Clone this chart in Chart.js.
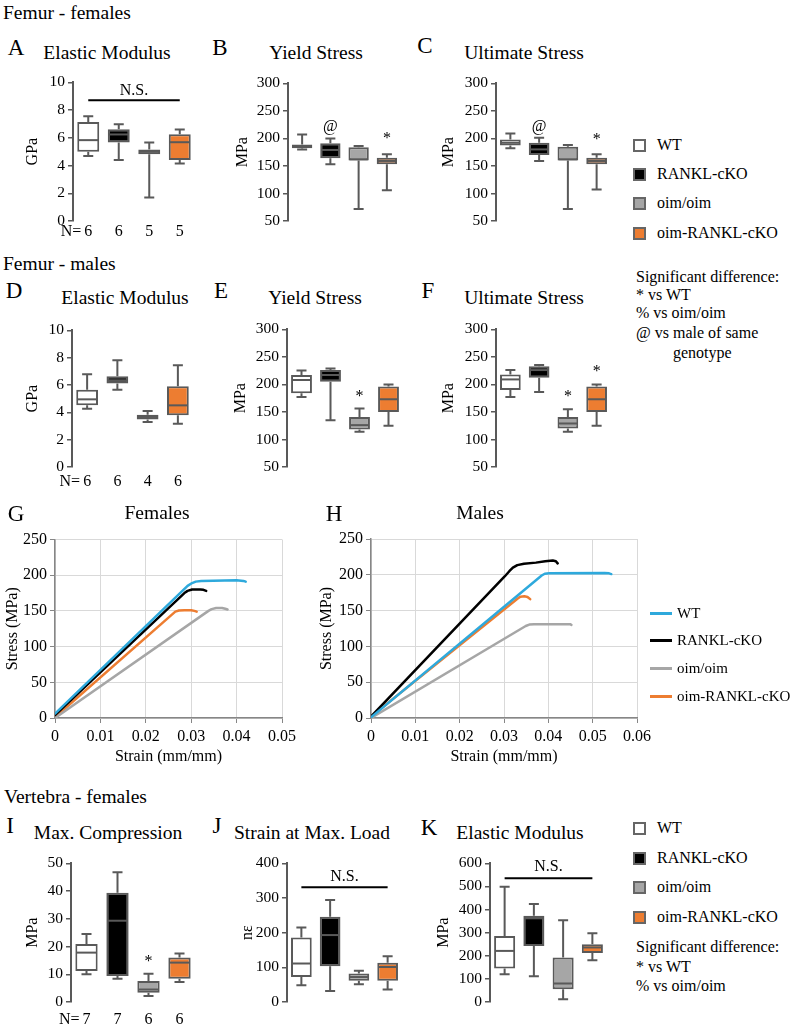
<!DOCTYPE html>
<html>
<head>
<meta charset="utf-8">
<script src="https://cdn.jsdelivr.net/npm/chart.js@4.4.1/dist/chart.umd.min.js"></script>
<style>
  body { margin: 0; background: #fff; }
  #fig { position: relative; width: 795px; height: 1027px; overflow: hidden; font-family: 'Liberation Serif', Tinos, 'Times New Roman', Times, 'DejaVu Serif', 'Noto Serif', serif; color: #000; }
  #fig canvas { position: absolute; }
  .t { position: absolute; white-space: nowrap; }
  .sw { position: absolute; width: 9px; height: 9px; border: 2px solid #666; }
  .ln { position: absolute; width: 22px; height: 3px; }
</style>
</head>
<body>
<div id="fig"></div>
<script>
const FONT = "'Liberation Serif', Tinos, 'Times New Roman', Times, 'DejaVu Serif', 'Noto Serif', serif"

const groups = ['WT', 'RANKL-cKO', 'oim/oim', 'oim-RANKL-cKO']
const boxFill = ['#ffffff', '#000000', '#a6a6a6', '#ed7d31']
const lineColor = ['#2ea9dc', '#000000', '#a6a6a6', '#ed7d31']

// box plots: one [min, q1, median, q3, max] per group
const femElastic = [[4.68, 4.99, 5.83, 7.14, 7.55], [4.39, 5.66, 6.24, 6.62, 6.98], [1.7, 4.82, 4.99, 5.16, 5.66], [4.15, 4.39, 5.68, 6.26, 6.6]]
const femYield = [[180, 182, 185, 189, 207], [153, 164, 179, 191, 200], [72, 160, 162, 184, 186], [106, 153, 159, 165, 171]]
const femUltimate = [[182, 187, 192, 198, 209], [159, 170, 180, 192, 201], [72, 160, 162, 185, 188], [107, 153, 159, 165, 171]]
const maleElastic = [[4.27, 4.51, 4.95, 5.66, 6.78], [5.66, 6.1, 6.34, 6.63, 7.8], [3.29, 3.47, 3.66, 3.83, 4.1], [3.17, 3.78, 4.51, 5.9, 7.44]]
const maleYield = [[177, 184, 208, 217, 225], [135, 205, 217, 226, 229], [114, 118, 126, 141, 156], [125, 150, 173, 196, 200]]
const maleUltimate = [[177, 190, 209, 218, 226], [186, 212, 226, 233, 235], [114, 120, 129, 141, 155], [125, 150, 173, 196, 200]]
const vertCompression = [[10, 11.2, 17.8, 20.9, 24.5], [8.4, 9.4, 29.3, 39.4, 46.8], [2.2, 3.3, 4.5, 7.6, 10.2], [7.2, 8.4, 14.2, 16, 17.5]]
const vertStrain = [[48, 72, 111, 186, 215], [32, 103, 193, 246, 294], [51, 61, 72, 82, 90], [36, 61, 101, 113, 132]]
const vertElastic = [[120, 145, 221, 285, 499], [111, 242, 362, 373, 424], [12, 55, 80, 193, 354], [181, 212, 236, 250, 297]]

const femaleN = [6, 6, 5, 5]
const maleN = [6, 6, 4, 6]
const vertN = [7, 7, 6, 6]

// stress-strain curves: [strain, stress]
const femCurveWT = [[0, 6], [0.0292, 185], [0.0302, 189], [0.031, 191], [0.0322, 192], [0.04, 193], [0.0415, 192], [0.042, 191]]
const femCurveRANKL = [[0, 4], [0.0285, 175], [0.0292, 178], [0.0302, 180], [0.032, 180], [0.0327, 179.5], [0.0333, 178]]
const femCurveOim = [[0, 0], [0.0338, 150], [0.0345, 152.5], [0.0355, 154], [0.0368, 154], [0.0375, 153], [0.038, 152]]
const femCurveOimRANKL = [[0, 1], [0.0265, 149], [0.0273, 150.5], [0.0285, 151], [0.03, 151], [0.0307, 150], [0.0312, 149]]
const maleCurveWT = [[0, 1], [0.0385, 199], [0.0392, 201.5], [0.0402, 202], [0.0527, 202.5], [0.0537, 202], [0.0542, 201]]
const maleCurveRANKL = [[0, 2], [0.0302, 198], [0.0312, 205], [0.032, 210], [0.033, 213.5], [0.0345, 215.5], [0.0372, 217], [0.0393, 219], [0.041, 220], [0.0417, 219], [0.0421, 216]]
const maleCurveOim = [[0, 0], [0.0349, 128.5], [0.0357, 130.5], [0.0368, 131], [0.0449, 131], [0.0452, 130]]
const maleCurveOimRANKL = [[0, 2], [0.0331, 167], [0.0337, 169.5], [0.0346, 170], [0.0353, 169], [0.0359, 166]]

Chart.defaults.font.family = FONT
Chart.defaults.color = '#000'

const fig = document.getElementById('fig')

function text(str, x, y, size, align) {
  const el = document.createElement('div')
  el.className = 't'
  el.textContent = str
  el.style.fontSize = size + 'px'
  el.style.lineHeight = size + 'px'
  el.style.left = x + 'px'
  el.style.top = (y - size / 2) + 'px'
  if (align === 'center') el.style.transform = 'translateX(-50%)'
  fig.appendChild(el)
}

function addCanvas(left, top, w, h) {
  const canvas = document.createElement('canvas')
  canvas.width = w
  canvas.height = h
  canvas.style.left = left + 'px'
  canvas.style.top = top + 'px'
  fig.appendChild(canvas)
  return canvas
}

function boxDecor(p) {
  return {
    id: 'boxDecor',
    beforeDatasetsDraw(chart) {
      const { ctx, scales: { x, y } } = chart
      ctx.save()
      ctx.strokeStyle = '#595959'
      ctx.lineWidth = 2
      p.stats.forEach((s, i) => {
        const cx = x.getPixelForValue(i)
        const yMin = y.getPixelForValue(s[0])
        const yMax = y.getPixelForValue(s[4])
        ctx.beginPath()
        ctx.moveTo(cx, y.getPixelForValue(s[3]))
        ctx.lineTo(cx, yMax)
        ctx.moveTo(cx, y.getPixelForValue(s[1]))
        ctx.lineTo(cx, yMin)
        ctx.moveTo(cx - 5, yMax)
        ctx.lineTo(cx + 5, yMax)
        ctx.moveTo(cx - 5, yMin)
        ctx.lineTo(cx + 5, yMin)
        ctx.stroke()
      })
      ctx.restore()
    },
    afterDatasetsDraw(chart) {
      const { ctx, scales: { x, y }, chartArea } = chart
      const bars = chart.getDatasetMeta(0).data
      ctx.save()
      ctx.strokeStyle = '#595959'
      ctx.lineWidth = 2
      p.stats.forEach((s, i) => {
        const half = bars[i].width / 2 - 1
        const my = y.getPixelForValue(s[2])
        ctx.beginPath()
        ctx.moveTo(bars[i].x - half, my)
        ctx.lineTo(bars[i].x + half, my)
        ctx.stroke()
      })

      ctx.fillStyle = '#000'
      ctx.font = `16px ${FONT}`
      ctx.textAlign = 'center'
      ctx.textBaseline = 'middle'
      const marks = p.marks || []
      marks.forEach(([i, v, t]) => ctx.fillText(t, x.getPixelForValue(i), y.getPixelForValue(v)))

      if (p.ns) {
        const x0 = x.getPixelForValue(0)
        const x3 = x.getPixelForValue(3)
        const ly = y.getPixelForValue(p.ns[0])
        ctx.strokeStyle = '#000'
        ctx.lineWidth = 2
        ctx.beginPath()
        ctx.moveTo(x0, ly)
        ctx.lineTo(x3, ly)
        ctx.stroke()
        ctx.fillText('N.S.', (x0 + x3) / 2, y.getPixelForValue(p.ns[1]))
      }

      if (p.n) {
        const ny = chartArea.bottom + p.nOff
        p.n.forEach((n, i) => ctx.fillText(String(n), x.getPixelForValue(i), ny))
        ctx.textAlign = 'right'
        ctx.fillText('N=', x.getPixelForValue(0) - 7, ny)
      }
      ctx.restore()
    }
  }
}

function boxPanel(p) {
  const padTop = 12
  const padBottom = 30
  const padRight = 6
  const left = Math.round(p.axisX - p.yWidth)
  const top = Math.round(p.top) - padTop
  const w = p.yWidth + p.areaW + padRight
  const h = Math.round(p.bottom - p.top) + padTop + padBottom
  const canvas = addCanvas(left, top, w, h)

  new Chart(canvas, {
    type: 'bar',
    data: {
      labels: groups,
      datasets: [{
        data: p.stats.map(s => [s[1], s[3]]),
        backgroundColor: boxFill,
        borderColor: '#595959',
        borderWidth: 2,
        borderSkipped: false,
        barPercentage: 0.72,
        categoryPercentage: 1
      }]
    },
    options: {
      responsive: false,
      animation: false,
      events: [],
      layout: { padding: { top: padTop, bottom: padBottom, left: 0, right: padRight } },
      plugins: { legend: { display: false }, tooltip: { enabled: false } },
      scales: {
        x: { display: false },
        y: {
          min: p.min,
          max: p.max,
          afterFit: (s) => { s.width = p.yWidth },
          ticks: { stepSize: p.step, font: { size: 15.5 }, padding: 3, color: '#000' },
          grid: { drawOnChartArea: false, tickLength: 5, color: '#595959', lineWidth: 1.5 },
          border: { color: '#595959', width: 2 },
          title: { display: true, text: p.unit, font: { size: 16 }, padding: 0, color: '#000' }
        }
      }
    },
    plugins: [boxDecor(p)]
  })
}

function curvePanel(p) {
  const canvas = addCanvas(p.left, p.top, p.w, p.h)
  new Chart(canvas, {
    type: 'scatter',
    data: {
      datasets: p.series.map((pts, i) => ({
        label: groups[i],
        data: pts.map(([sx, sy]) => ({ x: sx, y: sy })),
        showLine: true,
        borderColor: lineColor[i],
        backgroundColor: lineColor[i],
        borderWidth: 2.5,
        borderJoinStyle: 'round',
        borderCapStyle: 'round',
        pointRadius: 0,
        tension: 0
      }))
    },
    options: {
      responsive: false,
      animation: false,
      events: [],
      layout: { padding: { top: p.padTop, right: p.padRight, bottom: 2, left: 0 } },
      plugins: { legend: { display: false }, tooltip: { enabled: false } },
      scales: {
        x: {
          type: 'linear',
          min: 0,
          max: p.xMax,
          afterFit: (s) => { s.height = 48 },
          ticks: { stepSize: 0.01, font: { size: 16 }, padding: 4, color: '#000' },
          grid: { color: '#d9d9d9', tickColor: '#868686', tickLength: 5, lineWidth: 1 },
          border: { color: '#868686', width: 1.5 },
          title: { display: true, text: 'Strain (mm/mm)', font: { size: 16 }, padding: 0, color: '#000' }
        },
        y: {
          min: 0,
          max: 250,
          afterFit: (s) => { s.width = p.yWidth },
          ticks: { stepSize: 50, font: { size: 16 }, padding: 3, color: '#000' },
          grid: { color: '#d9d9d9', tickColor: '#868686', tickLength: 5, lineWidth: 1 },
          border: { color: '#868686', width: 1.5 },
          title: { display: true, text: 'Stress (MPa)', font: { size: 16 }, padding: { top: p.titlePad }, color: '#000' }
        }
      }
    }
  })
}

// femur - females
boxPanel({ stats: femElastic, axisX: 72.7, top: 82, bottom: 221, areaW: 122, yWidth: 50, min: 0, max: 10, step: 2, unit: 'GPa', ns: [8.7, 9.42], n: femaleN, nOff: 10.5 })
boxPanel({ stats: femYield, axisX: 288, top: 83, bottom: 221, areaW: 113, yWidth: 55, min: 50, max: 300, step: 50, unit: 'MPa', marks: [[1, 221, '@'], [3, 200, '*']] })
boxPanel({ stats: femUltimate, axisX: 496, top: 83, bottom: 221, areaW: 115, yWidth: 57, min: 50, max: 300, step: 50, unit: 'MPa', marks: [[1, 221, '@'], [3, 197, '*']] })

// femur - males
boxPanel({ stats: maleElastic, axisX: 72, top: 330, bottom: 467, areaW: 121, yWidth: 49, min: 0, max: 10, step: 2, unit: 'GPa', n: maleN, nOff: 15 })
boxPanel({ stats: maleYield, axisX: 287, top: 329, bottom: 467, areaW: 116, yWidth: 56, min: 50, max: 300, step: 50, unit: 'MPa', marks: [[2, 178, '*']] })
boxPanel({ stats: maleUltimate, axisX: 496, top: 329, bottom: 467, areaW: 115, yWidth: 57, min: 50, max: 300, step: 50, unit: 'MPa', marks: [[2, 177, '*'], [3, 223, '*']] })

// stress-strain
curvePanel({ series: [femCurveWT, femCurveRANKL, femCurveOim, femCurveOimRANKL], left: 0, top: 525, w: 300, h: 243, yWidth: 55, padTop: 14.5, padRight: 15, xMax: 0.05, titlePad: 3 })
curvePanel({ series: [maleCurveWT, maleCurveRANKL, maleCurveOim, maleCurveOimRANKL], left: 315, top: 525, w: 340, h: 243, yWidth: 56, padTop: 14, padRight: 16, xMax: 0.06, titlePad: 2 })

// vertebra - females
boxPanel({ stats: vertCompression, axisX: 71, top: 863, bottom: 1002, areaW: 124, yWidth: 48, min: 0, max: 50, step: 10, unit: 'MPa', marks: [[2, 14.6, '*']], n: vertN, nOff: 17.5 })
boxPanel({ stats: vertStrain, axisX: 287, top: 863, bottom: 1002, areaW: 115, yWidth: 49, min: 0, max: 400, step: 100, unit: 'nε', ns: [331, 361] })
boxPanel({ stats: vertElastic, axisX: 490, top: 863, bottom: 1002, areaW: 117, yWidth: 56, min: 0, max: 600, step: 100, unit: 'MPa', ns: [535, 583] })

// headings, panel letters, titles
text('Femur - females', 3, 13, 19.5)
text('Femur - males', 3, 264, 19.5)
text('Vertebra - females', 4, 797, 19.5)

const letters = [['A', 16, 47], ['B', 220, 47], ['C', 425, 45], ['D', 14, 290], ['E', 221, 290], ['F', 428, 290],
  ['G', 16, 513], ['H', 334, 513], ['I', 10, 825], ['J', 217, 825], ['K', 429, 827]]
letters.forEach(([l, x, y]) => text(l, x, y, 23, 'center'))

const titles = [['Elastic Modulus', 107, 53], ['Yield Stress', 316, 53], ['Ultimate Stress', 524, 53],
  ['Elastic Modulus', 125, 298], ['Yield Stress', 315, 298], ['Ultimate Stress', 524, 298],
  ['Females', 157, 513], ['Males', 480, 513],
  ['Max. Compression', 108, 833], ['Strain at Max. Load', 312, 833], ['Elastic Modulus', 520, 833]]
titles.forEach(([t, x, y]) => text(t, x, y, 19.5, 'center'))

// box legends
function boxLegend(ys) {
  ys.forEach((y, i) => {
    const sw = document.createElement('div')
    sw.className = 'sw'
    sw.style.left = '633px'
    sw.style.top = (y - 6.5) + 'px'
    sw.style.background = boxFill[i]
    fig.appendChild(sw)
    text(groups[i], 657, y, 16)
  })
}
boxLegend([145, 174, 203, 233])
boxLegend([828, 858, 887, 917])

text('Significant difference:', 636, 277, 16)
text('* vs WT', 636, 295, 16)
text('% vs oim/oim', 636, 313, 16)
text('@ vs male of same', 636, 333, 16)
text('genotype', 673, 353, 16)

text('Significant difference:', 636, 947, 16)
text('* vs WT', 636, 967, 16)
text('% vs oim/oim', 636, 986, 16)

// line legend
const lineLegendY = [613, 640, 668, 696]
lineLegendY.forEach((y, i) => {
  const ln = document.createElement('div')
  ln.className = 'ln'
  ln.style.left = '650px'
  ln.style.top = (y - 1.5) + 'px'
  ln.style.background = lineColor[i]
  fig.appendChild(ln)
  text(groups[i], 677, y, 15)
})
</script>
</body>
</html>
